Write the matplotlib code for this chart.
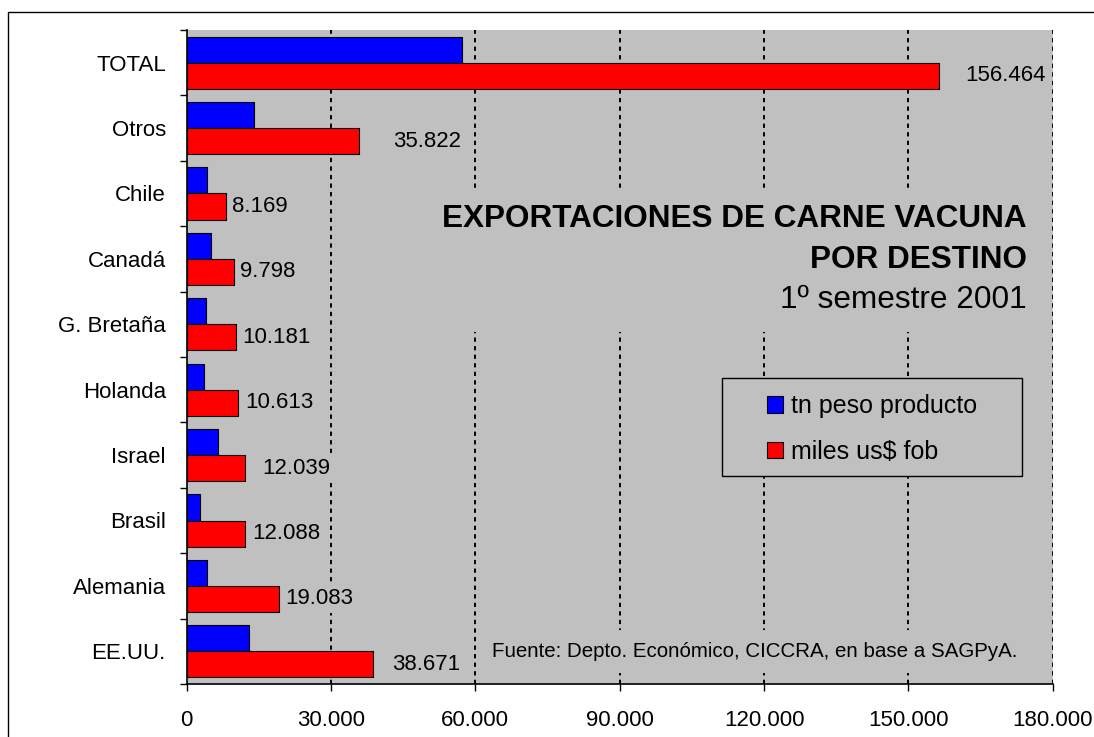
import matplotlib

matplotlib.use("Agg")

import matplotlib.pyplot as plt
import numpy as np
from matplotlib.patches import Rectangle
from matplotlib.ticker import FixedLocator

# top to bottom, as in the chart
destinos = ["TOTAL", "Otros", "Chile", "Canadá", "G. Bretaña", "Holanda",
            "Israel", "Brasil", "Alemania", "EE.UU."]
tn_peso = [57160, 14050, 4150, 5100, 4000, 3570, 6480, 2700, 4300, 13030]
miles_fob = [156464, 35822, 8169, 9798, 10181, 10613, 12039, 12088, 19083, 38671]
x_ticks = [0, 30000, 60000, 90000, 120000, 150000, 180000]

# gap (px) between the red bar end and its label, as placed in the original
label_gap_px = [26, 34, 6, 6, 7, 7, 18, 7, 7, 19]

W, H = 1094, 737
FONT = "Liberation Sans"
GRAY = "#c0c0c0"


def fx(px):
    return px / W


def fy(py):
    return 1 - py / H


def miles(v):
    return f"{v:,.0f}".replace(",", ".")


plt.rcParams["font.family"] = [FONT, "DejaVu Sans"]

fig = plt.figure(figsize=(W / 100, H / 100), dpi=100)
fig.patch.set_facecolor("white")

# outer frame of the chart object
fig.patches.append(Rectangle((fx(8.3), fy(H + 10)), 1.1, fy(11.7) - fy(H + 10),
                             transform=fig.transFigure, fill=False,
                             edgecolor="black", linewidth=1.0))

ax = fig.add_axes([fx(186.7), fy(684), fx(1052.7) - fx(186.7), fy(30) - fy(684)])
ax.set_facecolor(GRAY)

n = len(destinos)
ypos = np.arange(n)[::-1]
ax.barh(ypos + 0.2, tn_peso, height=0.4, color="#0000ff", edgecolor="black",
        linewidth=0.8, label="tn peso producto", zorder=3)
ax.barh(ypos - 0.2, miles_fob, height=0.4, color="#ff0000", edgecolor="black",
        linewidth=0.8, label="miles us$ fob", zorder=3)

for y, v, gap in zip(ypos, miles_fob, label_gap_px):
    ax.annotate(miles(v), xy=(v, y - 0.2), xytext=(gap * 0.72, 0),
                textcoords="offset points", ha="left", va="center",
                fontsize=16, zorder=4,
                bbox=dict(boxstyle="square,pad=0.15", fc=GRAY, ec="none"))

ax.set_xlim(0, 180000)
ax.set_ylim(-0.5, n - 0.5)
ax.set_xticks(x_ticks)
ax.set_xticklabels([miles(t) for t in x_ticks], fontsize=16)
ax.set_yticks(ypos)
ax.set_yticklabels(destinos, fontsize=16)
ax.yaxis.set_minor_locator(FixedLocator(np.arange(n + 1) - 0.5))
ax.tick_params(axis="y", which="major", length=0, pad=15)
ax.tick_params(axis="y", which="minor", length=5, width=1.0, direction="out")
ax.tick_params(axis="x", which="major", length=5, width=1.0, pad=14)

for s in ["top", "right"]:
    ax.spines[s].set_visible(False)
for s in ["left", "bottom"]:
    ax.spines[s].set_linewidth(1.2)

ax.set_axisbelow(True)
for t in x_ticks[1:]:
    ax.axvline(t, color="black", linewidth=1.4, linestyle=(0, (2.2, 2.2)), zorder=1)

# gray boxes behind title and legend hide the grid
ax.add_patch(Rectangle((fx(430), fy(332)), fx(1045) - fx(430), fy(191) - fy(332),
                       transform=fig.transFigure, facecolor=GRAY, edgecolor="none",
                       zorder=2, clip_on=False))
ax.add_patch(Rectangle((fx(722), fy(476)), fx(1022) - fx(722), fy(378) - fy(476),
                       transform=fig.transFigure, facecolor=GRAY, edgecolor="black",
                       linewidth=1.0, zorder=4, clip_on=False))

leg = ax.legend(loc="center", bbox_to_anchor=(fx(872), fy(429)),
                bbox_transform=fig.transFigure, frameon=False, fontsize=18,
                handlelength=0.63, handleheight=0.63, handletextpad=0.3,
                labelspacing=0.85, borderpad=0)
leg.set_zorder(5)

fig.text(fx(1027), fy(226.7), "EXPORTACIONES DE CARNE VACUNA", ha="right",
         va="baseline", fontsize=22.7, fontweight="bold")
fig.text(fx(1027), fy(268), "POR DESTINO", ha="right", va="baseline",
         fontsize=22.7, fontweight="bold")
fig.text(fx(1027), fy(308.3), "1º semestre 2001", ha="right", va="baseline",
         fontsize=22.7)

fig.text(fx(1017), fy(657), "Fuente: Depto. Económico, CICCRA, en base a SAGPyA.",
         ha="right", va="baseline", fontsize=14.8,
         bbox=dict(boxstyle="square,pad=0.6", fc=GRAY, ec="none"))

fig.savefig("out.png", dpi=100)
